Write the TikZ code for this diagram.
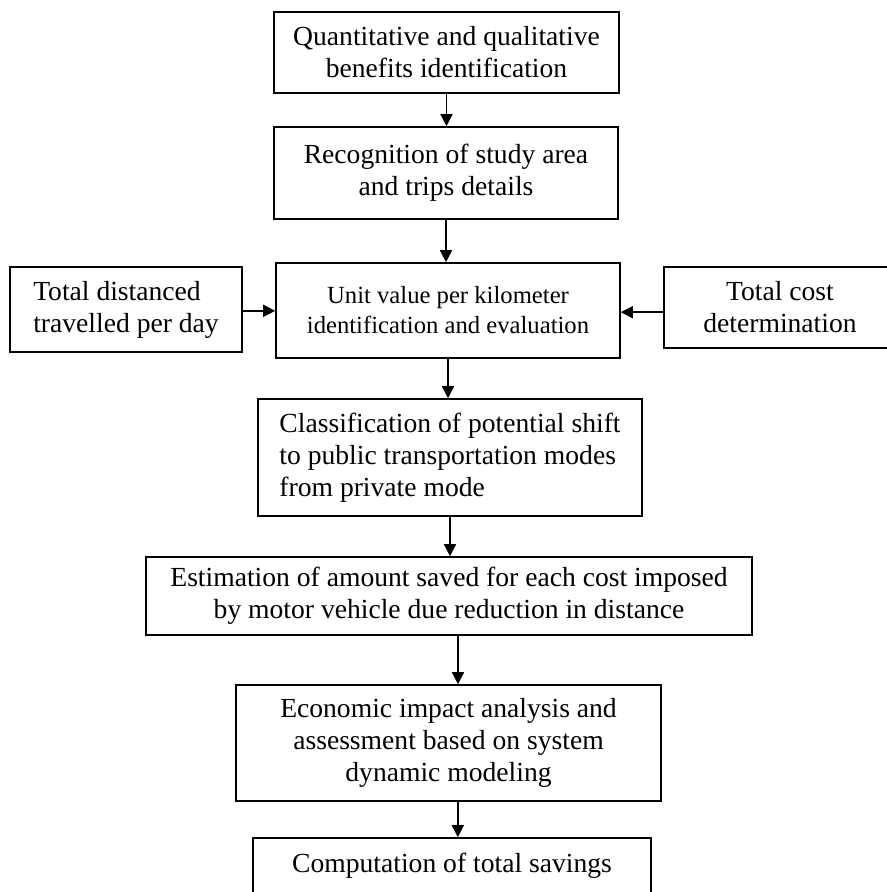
\documentclass[tikz,border=0pt]{standalone}
\usepackage{fontspec}
\setmainfont{Liberation Serif}
\usepackage{tikz}
\usetikzlibrary{arrows.meta, positioning, calc}

\begin{document}
\begin{tikzpicture}[
  x=0.75pt, y=-0.75pt,
  box/.style={draw, line width=1.2pt, inner sep=0pt, align=center,
              font=\fontsize{20.7}{24}\selectfont},
  sidebox/.style={box, align=left},
  arr/.style={-{Triangle[length=9pt, width=9pt]}, line width=1.1pt},
]
\useasboundingbox (0,0) rectangle (887,892);
\clip (0,0) rectangle (887,892);

% Main column
\node[box, minimum width=258.75pt, minimum height=60.75pt] (benefits) at (446.5,52.5)
  {Quantitative and qualitative\\benefits identification};
\node[box, minimum width=258pt, minimum height=69pt] (study) at (446,173)
  {Recognition of study area\\and trips details};
\node[box, minimum width=258pt, minimum height=71.25pt,
      font=\fontsize{18.5}{22.5}\selectfont] (unitval) at (448,310.5)
  {Unit value per kilometer\\identification and evaluation};
\node[sidebox, minimum width=288pt, minimum height=87.75pt] (shift) at (450,457.5)
  {Classification of potential shift\\to public transportation modes\\from private mode};
\node[box, minimum width=454.5pt, minimum height=58.5pt] (saving) at (449,596)
  {Estimation of amount saved for each cost imposed\\by motor vehicle due reduction in distance};
\node[box, minimum width=318.75pt, minimum height=87pt] (impact) at (448.5,743)
  {Economic impact analysis and\\assessment based on system\\dynamic modeling};
\node[box, minimum width=298.5pt, minimum height=42pt] (total) at (452,866)
  {Computation of total savings};

% Side inputs
\node[sidebox, minimum width=174pt, minimum height=63.75pt] (distance) at (126,309.5)
  {Total distanced\\travelled per day};
\node[box, minimum width=174pt, minimum height=60.75pt] (cost) at (780,307.5)
  {Total cost\\determination};

\draw[arr] (benefits.south) -- (benefits.south |- study.north);
\draw[arr] (study.south) -- (study.south |- unitval.north);
\draw[arr] (unitval.south) -- (unitval.south |- shift.north);
\draw[arr] (shift.south) -- (shift.south |- saving.north);
\draw[arr] ([xshift=6.75pt]saving.south) -- ([xshift=6.75pt]saving.south |- impact.north);
\draw[arr] ([xshift=7pt]impact.south) -- ([xshift=7pt]impact.south |- total.north);

\draw[arr] ([yshift=-1pt]distance.east) -- ([yshift=-1pt]distance.east -| unitval.west);
\draw[arr] ([yshift=-3.5pt]cost.west) -- ([yshift=-3.5pt]cost.west -| unitval.east);
\end{tikzpicture}
\end{document}
